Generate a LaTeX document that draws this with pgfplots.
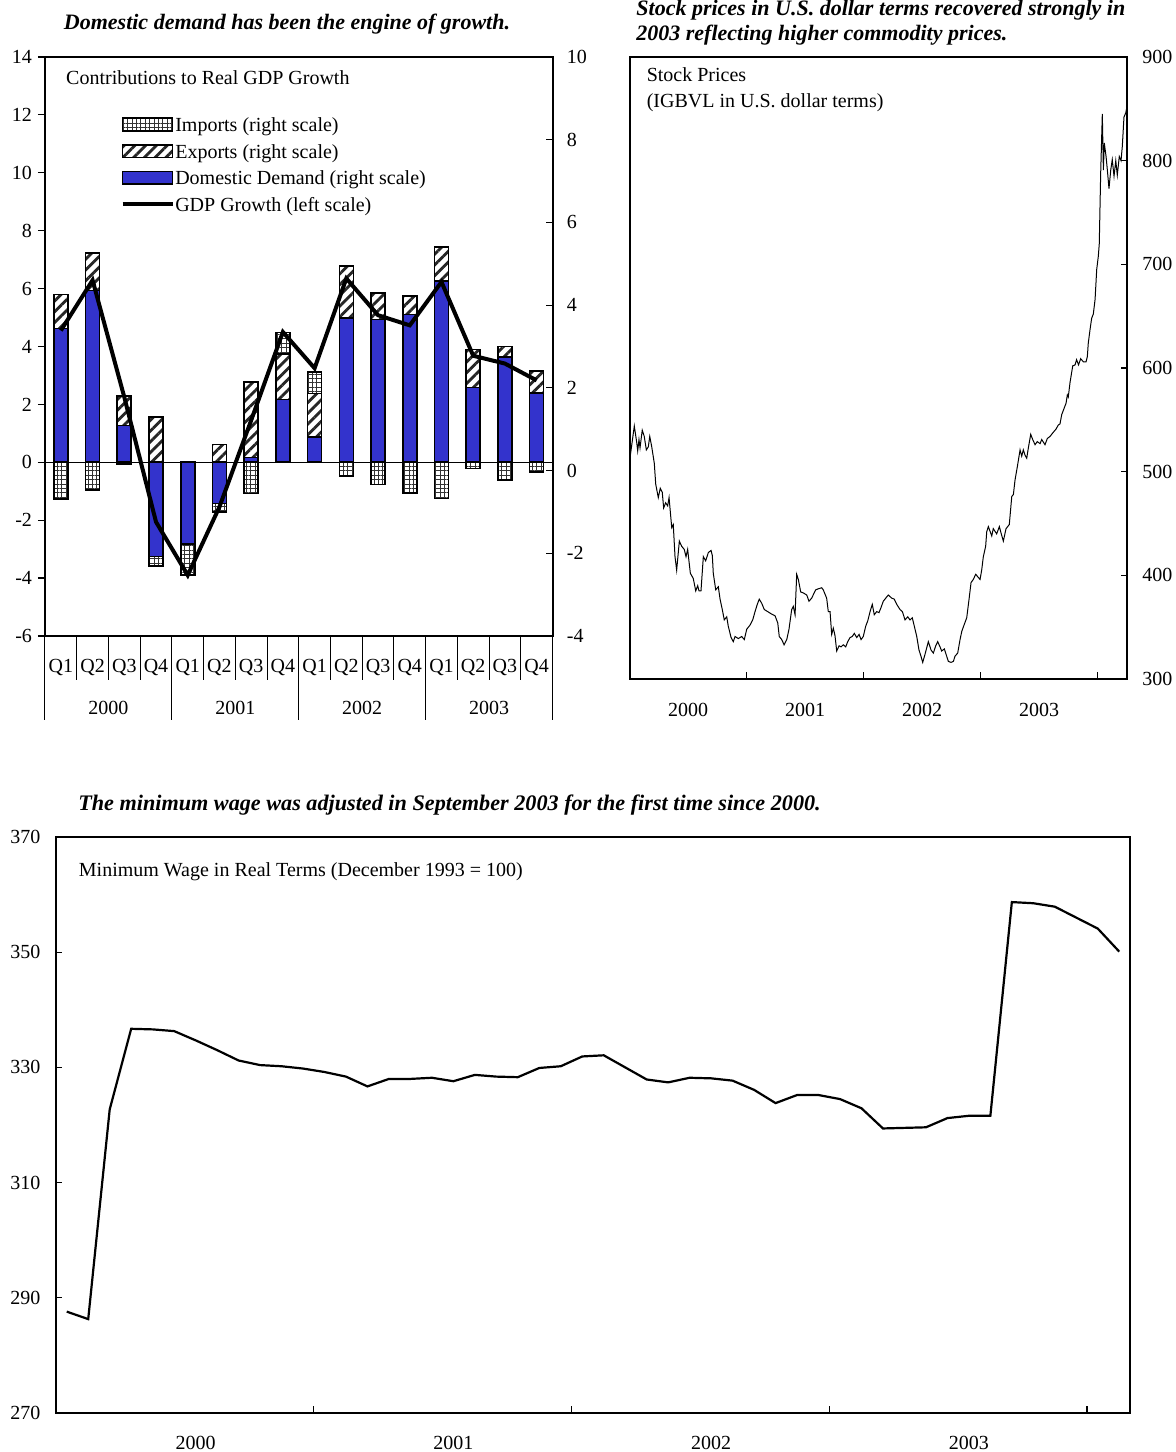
\documentclass[border=0pt]{standalone}
\usepackage{fontspec}
\setmainfont{Liberation Serif}
\usepackage{pgfplots}
\pgfplotsset{compat=1.18}
\usetikzlibrary{patterns.meta}
\definecolor{ddblue}{RGB}{51,51,204}
\pgfplotsset{
  every axis/.append style={font=\fontsize{10}{12}\selectfont},
  /pgf/number format/assume math mode=true,
  every tick/.style={black, line width=0.6pt},
  rectlegend/.style={legend image code/.code={\draw[##1] (0pt,-2.2pt) rectangle (25pt,4.2pt);}},
  linelegend/.style={legend image code/.code={\draw[##1] (0pt,1.3pt) -- (25pt,1.3pt);}},
  impstyle/.style={draw=black, line width=0.8pt, fill=white, postaction={pattern={Hatch[angle=0,distance=2.2pt,line width=0.35pt]}, pattern color=black!80}},
  expstyle/.style={draw=black, line width=0.8pt, fill=white, postaction={pattern={Lines[angle=45,distance=3.8pt,line width=1.4pt]}, pattern color=black!85}},
  ddstyle/.style={draw=black, line width=0.8pt, fill=ddblue},
}
\begin{document}
\begin{tikzpicture}
\useasboundingbox (0,0) rectangle (588pt,726pt);

% ---------- Titles ----------
\node[anchor=base, inner sep=0pt, font=\fontsize{11}{13}\selectfont\bfseries\itshape] at (143.5pt,711pt) {Domestic demand has been the engine of growth.};
\node[anchor=base west, inner sep=0pt, font=\fontsize{11}{13}\selectfont\bfseries\itshape] at (318pt,718pt) {Stock prices in U.S. dollar terms recovered strongly in};
\node[anchor=base west, inner sep=0pt, font=\fontsize{11}{13}\selectfont\bfseries\itshape] at (318pt,705.5pt) {2003 reflecting higher commodity prices.};
\node[anchor=base, inner sep=0pt, font=\fontsize{11.1}{13}\selectfont\bfseries\itshape] at (224.75pt,320.5pt) {The minimum wage was adjusted in September 2003 for the first time since 2000.};

% ---------- Chart 1: contributions ----------
\begin{axis}[
  at={(22.5pt,408pt)}, anchor=south west, scale only axis,
  width=253.75pt, height=289.5pt,
  xmin=-0.5, xmax=15.5, ymin=-6, ymax=14,
  axis line style={line width=1pt},
  ytick={-6,-4,...,14}, ytick pos=left, ytick align=outside,
  xtick={0,...,15},
  xticklabels={Q1,Q2,Q3,Q4,Q1,Q2,Q3,Q4,Q1,Q2,Q3,Q4,Q1,Q2,Q3,Q4},
  xtick pos=bottom, xtick align=outside,
  major x tick style={draw=none},
  minor xtick={0.5,1.5,...,14.5},
  minor x tick style={black, line width=0.5pt},
  major tick length=3.5pt, minor tick length=22pt,
  yticklabel style={anchor=east, inner sep=0pt, xshift=-2.8pt},
  xticklabel style={anchor=base, inner sep=0pt, yshift=-14.9pt},
  extra y ticks={0}, extra y tick labels={},
  extra y tick style={grid=major, major grid style={black, line width=0.5pt}},
  legend style={draw=none, fill=none, at={(0.148,0.898)}, anchor=north west,
    inner sep=0pt, row sep=3.35pt, column sep=0.4pt,
    nodes={inner sep=0pt, text height=7.5pt, text depth=2.5pt}},
  legend cell align=left,
]
\addlegendimage{rectlegend, impstyle}
\addlegendentry{Imports (right scale)}
\addlegendimage{rectlegend, expstyle}
\addlegendentry{Exports (right scale)}
\addlegendimage{rectlegend, ddstyle}
\addlegendentry{Domestic Demand (right scale)}
\addlegendimage{linelegend, black, line width=2pt}
\addlegendentry{GDP Growth (left scale)}

% imports extent
\addplot[ybar, bar width=7pt, bar shift=0pt, impstyle, forget plot] coordinates {
 (0,-1.27) (1,-0.96) (2,-0.06) (3,-3.58) (4,-3.90) (5,-1.72) (6,-1.08) (7,4.48)
 (8,3.12) (9,-0.47) (10,-0.77) (11,-1.06) (12,-1.25) (13,-0.22) (14,-0.62) (15,-0.33)};
% exports extent
\addplot[ybar, bar width=7pt, bar shift=0pt, expstyle, forget plot] coordinates {
 (0,5.80) (1,7.22) (2,2.29) (3,1.56) (5,0.62) (6,2.77) (7,3.75)
 (8,2.38) (9,6.78) (10,5.85) (11,5.75) (12,7.44) (13,3.89) (14,4.00) (15,3.15)};
% domestic demand
\addplot[ybar, bar width=7pt, bar shift=0pt, ddstyle, forget plot] coordinates {
 (0,4.62) (1,5.94) (2,1.27) (3,-3.25) (4,-2.83) (5,-1.43) (6,0.16) (7,2.17)
 (8,0.88) (9,4.98) (10,4.93) (11,5.11) (12,6.26) (13,2.58) (14,3.64) (15,2.39)};
% GDP growth
\addplot[black, line width=2pt, mark=none, forget plot] coordinates {
 (0,4.55) (1,6.29) (2,2.25) (3,-2.06) (4,-3.90) (5,-1.54) (6,1.45) (7,4.50)
 (8,3.25) (9,6.35) (10,5.08) (11,4.73) (12,6.23) (13,3.68) (14,3.41) (15,2.83)};
\node[anchor=base west, inner sep=0pt] at (rel axis cs:0.041,0.953) {Contributions to Real GDP Growth};
\end{axis}

\begin{axis}[
  at={(22.5pt,408pt)}, anchor=south west, scale only axis,
  width=253.75pt, height=289.5pt,
  xmin=-0.5, xmax=15.5, ymin=-4, ymax=10,
  axis line style={line width=1pt},
  ytick={-4,-2,...,10}, ytick pos=right, yticklabel pos=right, ytick align=inside,
  yticklabel style={anchor=west, inner sep=0pt, xshift=7pt},
  xtick={1.5,5.5,9.5,13.5}, xticklabels={2000,2001,2002,2003},
  xtick pos=bottom, xtick align=outside,
  major x tick style={draw=none},
  minor xtick={-0.5,3.5,7.5,11.5,15.5},
  minor x tick style={black, line width=0.5pt},
  major tick length=3.5pt, minor tick length=42pt,
  xticklabel style={anchor=base, inner sep=0pt, yshift=-35.6pt},
]
\end{axis}

% ---------- Chart 2: stock prices ----------
\begin{axis}[
  at={(314.75pt,386.5pt)}, anchor=south west, scale only axis,
  width=248.75pt, height=311pt,
  xmin=0, xmax=4.252, ymin=300, ymax=900,
  axis line style={line width=1pt},
  ytick={300,400,...,900}, ytick pos=right, yticklabel pos=right, ytick align=inside,
  yticklabel style={anchor=west, inner sep=0pt, xshift=7.5pt},
  xtick={0.5,1.5,2.5,3.5}, xticklabels={2000,2001,2002,2003},
  xtick pos=bottom, xtick align=inside,
  major x tick style={draw=none},
  minor xtick={1,2,3,4},
  major tick length=3.2pt, minor tick length=3.3pt,
  xticklabel style={anchor=base, inner sep=0pt, yshift=-18.75pt},
]
\addplot[black, line width=0.5pt, mark=none] coordinates {
(0.004,513) (0.041,544) (0.062,528) (0.070,520) (0.081,531) (0.090,523) (0.109,540) (0.126,534) (0.144,521) (0.161,524) (0.173,534) (0.190,524) (0.212,508) (0.224,488) (0.246,475) (0.263,484) (0.280,480) (0.292,465) (0.309,470) (0.326,467) (0.338,475) (0.361,446) (0.374,449) (0.389,418) (0.403,405) (0.426,433) (0.446,428) (0.468,425) (0.483,418) (0.497,425) (0.520,402) (0.545,397) (0.566,385) (0.583,390) (0.594,385) (0.611,385) (0.631,418) (0.651,414) (0.674,422) (0.697,424) (0.708,419) (0.716,402) (0.737,386) (0.759,389) (0.774,377) (0.793,367) (0.810,357) (0.831,360) (0.844,351) (0.868,340) (0.887,336) (0.902,341) (0.930,339) (0.959,341) (0.981,338) (1.002,348) (1.030,352) (1.053,357) (1.073,365) (1.092,372) (1.109,377) (1.130,373) (1.152,367) (1.181,365) (1.209,363) (1.244,361) (1.267,354) (1.280,341) (1.301,338) (1.321,333) (1.344,338) (1.363,348) (1.386,367) (1.400,370) (1.415,362) (1.429,401) (1.443,396) (1.463,384) (1.486,383) (1.515,381) (1.534,375) (1.557,378) (1.591,386) (1.614,387) (1.643,388) (1.656,386) (1.685,378) (1.699,365) (1.714,365) (1.728,343) (1.742,349) (1.756,342) (1.771,327) (1.791,332) (1.808,331) (1.827,333) (1.848,331) (1.865,336) (1.885,340) (1.904,341) (1.921,344) (1.942,340) (1.962,343) (1.979,338) (1.998,341) (2.019,351) (2.036,356) (2.056,365) (2.075,372) (2.092,362) (2.113,365) (2.132,364) (2.150,369) (2.169,375) (2.190,378) (2.212,381) (2.241,378) (2.263,377) (2.284,372) (2.312,367) (2.332,365) (2.355,357) (2.378,360) (2.397,357) (2.417,359) (2.434,351) (2.455,341) (2.474,328) (2.491,322) (2.506,316) (2.526,324) (2.540,330) (2.554,336) (2.577,328) (2.597,325) (2.617,332) (2.634,336) (2.654,331) (2.668,327) (2.691,329) (2.705,324) (2.725,317) (2.748,316) (2.768,317) (2.782,322) (2.805,325) (2.825,338) (2.840,346) (2.859,352) (2.882,359) (2.902,377) (2.919,393) (2.938,396) (2.959,401) (2.981,398) (2.996,396) (3.010,405) (3.024,418) (3.044,428) (3.053,442) (3.067,447) (3.096,438) (3.109,445) (3.138,440) (3.161,447) (3.175,441) (3.195,433) (3.218,445) (3.246,449) (3.267,476) (3.281,478) (3.295,492) (3.315,505) (3.338,521) (3.352,515) (3.366,521) (3.380,516) (3.395,513) (3.409,523) (3.429,536) (3.446,531) (3.466,526) (3.485,529) (3.509,527) (3.523,531) (3.551,526) (3.571,532) (3.594,534) (3.622,538) (3.645,541) (3.665,545) (3.679,546) (3.694,555) (3.714,561) (3.731,566) (3.742,574) (3.750,572) (3.765,586) (3.788,602) (3.808,603) (3.821,608) (3.838,603) (3.856,609) (3.879,606) (3.902,606) (3.913,611) (3.921,624) (3.936,637) (3.950,648) (3.964,652) (3.979,666) (3.993,695) (4.007,708) (4.015,720) (4.027,788) (4.041,845) (4.050,791) (4.058,817) (4.073,804) (4.084,791) (4.098,773) (4.113,791) (4.126,801) (4.141,785) (4.156,800) (4.169,786) (4.186,804) (4.201,800) (4.212,814) (4.226,842) (4.241,846) (4.252,852)};
\node[anchor=base west, inner sep=0pt] at (rel axis cs:0.034,0.960) {Stock Prices};
\node[anchor=base west, inner sep=0pt] at (rel axis cs:0.034,0.919) {(IGBVL in U.S. dollar terms)};
\end{axis}

% ---------- Chart 3: minimum wage ----------
\begin{axis}[
  at={(28pt,19.5pt)}, anchor=south west, scale only axis,
  width=537pt, height=288pt,
  xmin=-0.5, xmax=49.5, ymin=270, ymax=370,
  axis line style={line width=1pt},
  ytick={270,290,...,370}, ytick pos=left, ytick align=inside,
  yticklabel style={anchor=east, inner sep=0pt, xshift=-7.6pt},
  xtick={6,18,30,42}, xticklabels={2000,2001,2002,2003},
  xtick pos=bottom, xtick align=inside,
  major x tick style={draw=none},
  minor xtick={11.5,23.5,35.5,47.5},
  major tick length=3pt, minor tick length=3.3pt,
  xticklabel style={anchor=base, inner sep=0pt, yshift=-18pt},
]
\addplot[black, line width=1.1pt, mark=none] coordinates {
(0,287.6) (1,286.3) (2,322.7) (3,336.7) (4,336.6) (5,336.3) (6,334.7) (7,333.0) (8,331.2) (9,330.4)
(10,330.2) (11,329.8) (12,329.2) (13,328.4) (14,326.7) (15,328.0) (16,328.0) (17,328.2) (18,327.6) (19,328.7)
(20,328.4) (21,328.3) (22,329.9) (23,330.2) (24,331.9) (25,332.1) (26,330.0) (27,327.9) (28,327.4) (29,328.2)
(30,328.1) (31,327.7) (32,326.1) (33,323.8) (34,325.2) (35,325.2) (36,324.5) (37,322.9) (38,319.4) (39,319.5)
(40,319.6) (41,321.2) (42,321.6) (43,321.6) (44,358.7) (45,358.5) (46,357.9) (47,356.0) (48,354.1) (49,350.1)};
\node[anchor=base west, inner sep=0pt] at (rel axis cs:0.021,0.931) {Minimum Wage in Real Terms (December 1993 = 100)};
\end{axis}
\end{tikzpicture}
\end{document}
